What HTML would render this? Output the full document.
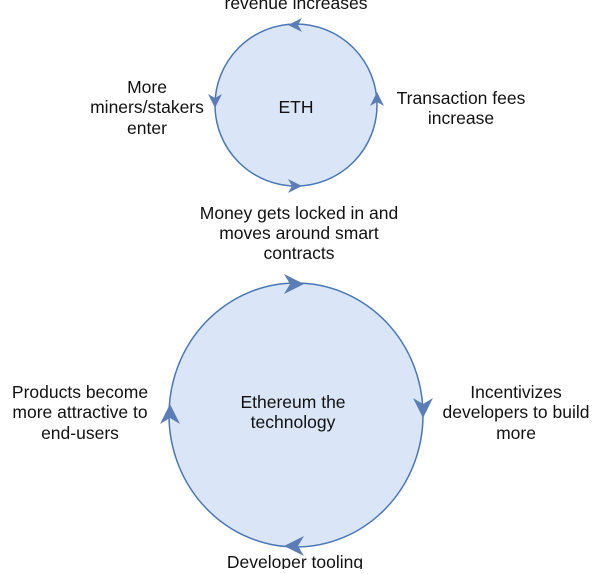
<!DOCTYPE html>
<html><head><meta charset="utf-8"><style>
html,body{margin:0;padding:0;background:#fff;}
svg text{font-family:"Liberation Sans",Arial,sans-serif;font-size:17.5px;fill:#111;text-anchor:middle;}
</style></head><body>
<svg width="600" height="569" viewBox="0 0 600 569" xmlns="http://www.w3.org/2000/svg">
<defs>
<g id="a"><path d="M0 0 L-14 -7 L-10 0 L-14 7 Z" fill="#5a7db5"/></g>
<g id="b"><path d="M0 0 L-20 -10 L-14 0 L-20 10 Z" fill="#5a7db5"/></g>
</defs>
<circle cx="296" cy="105" r="81" fill="#dae6f7" stroke="#4a77b4" stroke-width="1.5"/>
<use href="#a" transform="translate(288,25) rotate(180)"/>
<use href="#a" transform="translate(215,108) rotate(90)"/>
<use href="#a" transform="translate(302,186) rotate(0)"/>
<use href="#a" transform="translate(377,92) rotate(-90)"/>
<text x="296" y="113">ETH</text>
<text x="296" y="9">revenue increases</text>
<text x="147" y="93">More</text>
<text x="147" y="113">miners/stakers</text>
<text x="147" y="134">enter</text>
<text x="461" y="104">Transaction fees</text>
<text x="461" y="124">increase</text>
<text x="299" y="219">Money gets locked in and</text>
<text x="299" y="239">moves around smart</text>
<text x="299" y="259">contracts</text>
<ellipse cx="296" cy="415" rx="127" ry="132" fill="#dae6f7" stroke="#4a77b4" stroke-width="1.5"/>
<use href="#b" transform="translate(304,284) rotate(0)"/>
<use href="#b" transform="translate(423,418) rotate(90)"/>
<use href="#b" transform="translate(284,546) rotate(180)"/>
<use href="#b" transform="translate(170,404) rotate(-90)"/>
<text x="293" y="408">Ethereum the</text>
<text x="293" y="428">technology</text>
<text x="80" y="398">Products become</text>
<text x="80" y="418">more attractive to</text>
<text x="80" y="439">end-users</text>
<text x="516" y="398">Incentivizes</text>
<text x="516" y="418">developers to build</text>
<text x="516" y="439">more</text>
<text x="295" y="568">Developer tooling</text>
</svg>
</body></html>
